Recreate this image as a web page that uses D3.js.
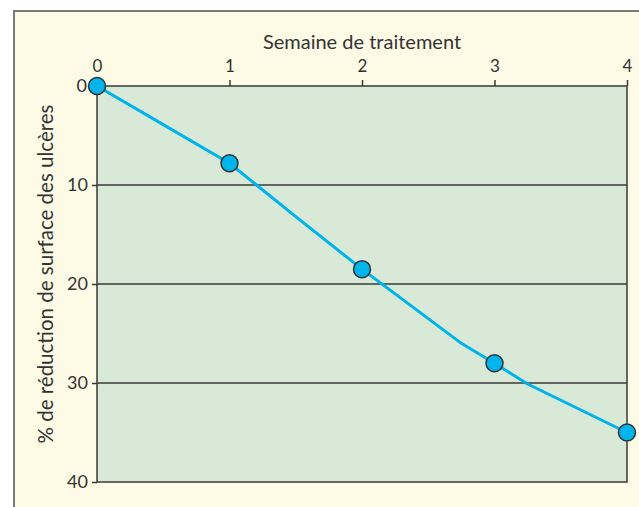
<!DOCTYPE html>
<html>
<head>
<meta charset="utf-8">
<script src="https://cdn.jsdelivr.net/npm/d3@7"></script>
<style>
  html, body { margin: 0; padding: 0; background: #ffffff; }
  svg { display: block; }
  text { font-family: Lato, "Noto Sans", sans-serif; fill: #333333; }
</style>
</head>
<body>
<svg id="chart" width="639" height="507"></svg>
<script>
// ---- data ----
const weeks = [0, 1, 2, 3, 4];                       // measured points (weeks)
const reduction = [0, 7.8, 18.5, 28.0, 35.0];        // % reduction at those weeks
const curveWeeks = [0, 0.5, 1, 1.5, 2, 2.74, 3, 3.25, 4];       // path of the drawn line
const curveValues = [0, 3.9, 7.8, 13.2, 18.5, 25.9, 28.0, 30.1, 35.0];
const xTicks = [0, 1, 2, 3, 4];
const yTicks = [0, 10, 20, 30, 40];
const xTitle = "Semaine de traitement";
const yTitle = "% de réduction de surface des ulcères";

// ---- layout ----
const svg = d3.select("#chart");
const W = 639, H = 507;
const plot = { left: 97, right: 627, top: 86, bottom: 482 };

svg.append("rect")
  .attr("x", 14).attr("y", 11)
  .attr("width", W + 20).attr("height", H + 20)
  .attr("fill", "#fdfbe6").attr("stroke", "#7a7a7a").attr("stroke-width", 2);

const x = d3.scaleLinear().domain([0, 4]).range([plot.left, plot.right]);
const y = d3.scaleLinear().domain([0, 40]).range([plot.top, plot.bottom]);

// plot background
svg.append("rect")
  .attr("x", x(0)).attr("y", y(0))
  .attr("width", x(4) - x(0)).attr("height", y(40) - y(0))
  .attr("fill", "#d8e9d7").attr("stroke", "#3a3a3a").attr("stroke-width", 1.5);

// horizontal grid lines
svg.append("g").selectAll("line").data(yTicks.filter(d => d > 0 && d < 40)).join("line")
  .attr("x1", x(0)).attr("x2", x(4))
  .attr("y1", d => y(d)).attr("y2", d => y(d))
  .attr("stroke", "#3a3a3a").attr("stroke-width", 1.5);

// top axis
const xAxis = svg.append("g")
  .attr("transform", `translate(0,${y(0)})`)
  .call(d3.axisTop(x).tickValues(xTicks).tickFormat(d3.format("d")).tickSize(6).tickPadding(8));
xAxis.select(".domain").remove();
xAxis.selectAll(".tick line").attr("stroke", "#3a3a3a").attr("stroke-width", 1.5);
xAxis.selectAll(".tick text").attr("font-size", 17).attr("fill", "#333").attr("font-family", "Lato, 'Noto Sans', sans-serif");

// left axis
const yAxis = svg.append("g")
  .attr("transform", `translate(${x(0)},0)`)
  .call(d3.axisLeft(y).tickValues(yTicks).tickFormat(d3.format("d")).tickSize(5).tickPadding(4));
yAxis.select(".domain").remove();
yAxis.selectAll(".tick line").attr("stroke", "#3a3a3a").attr("stroke-width", 1.5);
yAxis.selectAll(".tick text").attr("font-size", 18).attr("fill", "#333").attr("font-family", "Lato, 'Noto Sans', sans-serif");
yAxis.selectAll(".tick").filter(d => d === 0).select("line").remove();
yAxis.selectAll(".tick").filter(d => d === 0).select("text").attr("x", -10);

// titles
svg.append("text")
  .attr("x", 362).attr("y", 49)
  .attr("text-anchor", "middle").attr("font-size", 20)
  .text(xTitle);

svg.append("text")
  .attr("transform", `translate(53,274) rotate(-90)`)
  .attr("text-anchor", "middle").attr("font-size", 20.5)
  .text(yTitle);

// line
const line = d3.line().x(d => x(d[0])).y(d => y(d[1]));
svg.append("path")
  .datum(curveWeeks.map((w, i) => [w, curveValues[i]]))
  .attr("d", line)
  .attr("fill", "none").attr("stroke", "#00b3ea").attr("stroke-width", 3)
  .attr("stroke-linejoin", "round");

// markers
svg.append("g").selectAll("circle").data(weeks.map((w, i) => [w, reduction[i]])).join("circle")
  .attr("cx", d => x(d[0])).attr("cy", d => y(d[1])).attr("r", 8.5)
  .attr("fill", "#00b4ec").attr("stroke", "#333").attr("stroke-width", 1.5);
</script>
</body>
</html>
